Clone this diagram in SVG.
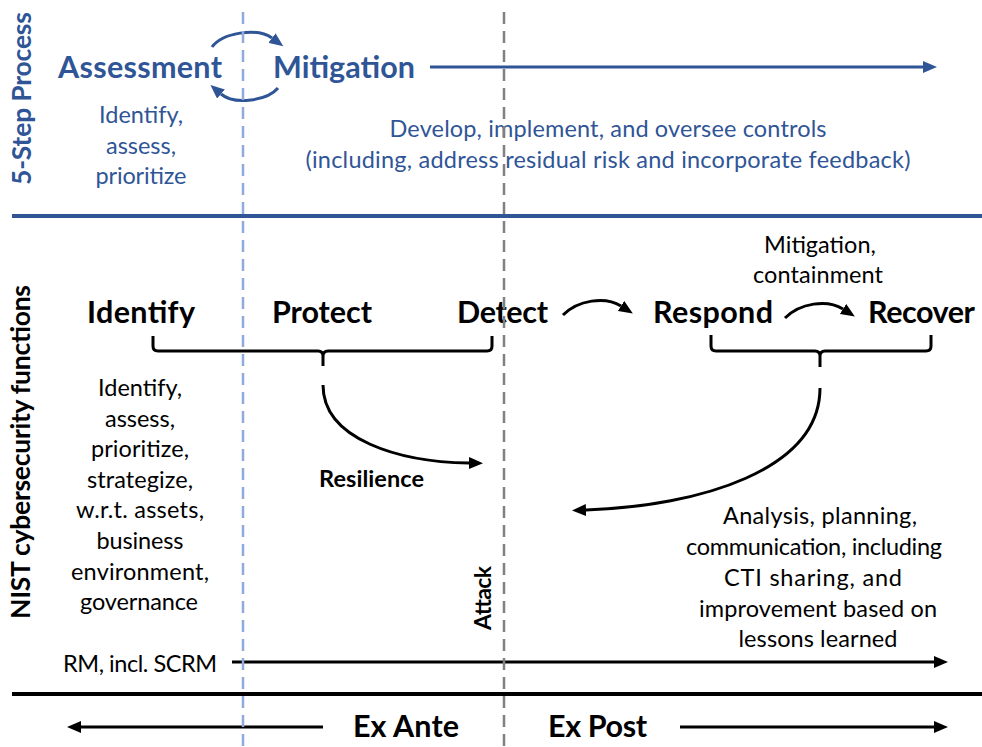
<svg xmlns="http://www.w3.org/2000/svg" width="982" height="747" viewBox="0 0 982 747">
  <style>
    text { font-family: Lato, "Open Sans", "Liberation Sans", sans-serif; }
    .bold { font-weight: 700; }
    .reg { font-weight: 400; }
    .blue { fill: #2F5597; }
    .black { fill: #000000; }
    .head { font-size: 30.5px; }
    .body { font-size: 23.5px; }
    .side { font-size: 26.5px; }
    .mid { text-anchor: middle; }
    .line { fill: none; stroke: #000000; stroke-width: 3; }
    .bline { fill: none; stroke: #2F5597; stroke-width: 3; }
    .dash-blue { stroke: #8FAADC; stroke-width: 2.5; stroke-dasharray: 12 7; }
    .dash-gray { stroke: #808080; stroke-width: 2.5; stroke-dasharray: 12 7; }
  </style>
  <defs>
    <marker id="ah" viewBox="0 0 14 12" refX="0" refY="6" markerWidth="14" markerHeight="12" markerUnits="userSpaceOnUse" orient="auto">
      <path d="M0,0 L14,6 L0,12 z" fill="#000000"/>
    </marker>
    <marker id="ah-blue" viewBox="0 0 14 12" refX="0" refY="6" markerWidth="14" markerHeight="12" markerUnits="userSpaceOnUse" orient="auto">
      <path d="M0,0 L14,6 L0,12 z" fill="#2F5597"/>
    </marker>
  </defs>

  <!-- section rules -->
  <line x1="12" y1="216" x2="982" y2="216" stroke="#2F5597" stroke-width="4"/>
  <line x1="12" y1="694" x2="982" y2="694" stroke="#000000" stroke-width="4"/>

  <!-- side labels -->
  <text class="bold blue side mid" transform="translate(31,98.5) rotate(-90)" textLength="173">5-Step Process</text>
  <text class="bold black side mid" transform="translate(30,452) rotate(-90)" textLength="334">NIST cybersecurity functions</text>

  <!-- 5-step process -->
  <g id="assessment">
    <text class="bold blue head mid" x="140" y="78" textLength="164">Assessment</text>
    <text class="reg blue body mid" x="141" y="123" textLength="84">Identify,</text>
    <text class="reg blue body mid" x="141" y="153.5" textLength="70">assess,</text>
    <text class="reg blue body mid" x="141" y="184" textLength="91">prioritize</text>
  </g>
  <g id="mitigation">
    <text class="bold blue head mid" x="344" y="78" textLength="142">Mitigation</text>
    <text class="reg blue body mid" x="608" y="137" textLength="437">Develop, implement, and oversee controls</text>
    <text class="reg blue body mid" x="608" y="168" textLength="605">(including, address residual risk and incorporate feedback)</text>
  </g>

  <!-- NIST functions -->
  <g id="identify">
    <text class="bold black head mid" x="141" y="323" textLength="108">Identify</text>
    <text class="reg black body mid" x="140" y="396" textLength="84">Identify,</text>
    <text class="reg black body mid" x="140" y="426.6" textLength="70">assess,</text>
    <text class="reg black body mid" x="140" y="457.2" textLength="98">prioritize,</text>
    <text class="reg black body mid" x="140" y="487.8" textLength="106">strategize,</text>
    <text class="reg black body mid" x="140" y="518.4" textLength="128">w.r.t. assets,</text>
    <text class="reg black body mid" x="140" y="549" textLength="87">business</text>
    <text class="reg black body mid" x="140" y="579.6" textLength="138">environment,</text>
    <text class="reg black body mid" x="139" y="610" textLength="118">governance</text>
  </g>
  <g id="protect">
    <text class="bold black head mid" x="322" y="323" textLength="100">Protect</text>
  </g>
  <g id="detect">
    <text class="bold black head mid" x="502.5" y="323" textLength="91">Detect</text>
  </g>
  <g id="respond">
    <text class="bold black head mid" x="713" y="323" textLength="120">Respond</text>
  </g>
  <g id="recover">
    <text class="bold black head mid" x="921.5" y="323" textLength="107">Recover</text>
  </g>
  <g id="containment-note">
    <text class="reg black body mid" x="820" y="253">Mitigation,</text>
    <text class="reg black body mid" x="818" y="283" textLength="130">containment</text>
  </g>
  <g id="resilience">
    <text class="bold black mid" x="371.5" y="487" font-size="23.5" textLength="105">Resilience</text>
  </g>
  <g id="attack">
    <text class="bold black mid" transform="translate(491,598) rotate(-90)" font-size="23" textLength="64">Attack</text>
  </g>
  <g id="recovery-note">
    <text class="reg black body mid" x="820" y="524" textLength="194">Analysis, planning,</text>
    <text class="reg black body mid" x="814" y="555" textLength="256">communication, including</text>
    <text class="reg black body mid" x="813" y="586" textLength="178">CTI sharing, and</text>
    <text class="reg black body mid" x="818" y="617" textLength="238">improvement based on</text>
    <text class="reg black body mid" x="818" y="647" textLength="159">lessons learned</text>
  </g>
  <g id="rm">
    <text class="reg black body" x="63" y="672" textLength="154">RM, incl. SCRM</text>
  </g>
  <g id="ex-ante">
    <text class="bold black head mid" x="406" y="737" textLength="106">Ex Ante</text>
  </g>
  <g id="ex-post">
    <text class="bold black head mid" x="597.5" y="737" textLength="99">Ex Post</text>
  </g>

  <!-- connectors -->
  <g id="connectors">
    <!-- assessment / mitigation cycle -->
    <path class="bline" d="M212,47 C222,33 257,27 272,38" marker-end="url(#ah-blue)"/>
    <path class="bline" d="M278,88 C268,100 235,106 221,94" marker-end="url(#ah-blue)"/>
    <line class="bline" x1="430" y1="67" x2="923" y2="67" marker-end="url(#ah-blue)"/>

    <!-- function flow -->
    <path class="line" d="M563,315 C578,300 605,296 621,306" marker-end="url(#ah)"/>
    <path class="line" d="M785,318 C800,303 827,299 843,309" marker-end="url(#ah)"/>

    <!-- braces -->
    <path class="line" d="M153,336 L153,346 Q153,351 158,351 L318,351 Q323,351 323,356 L323,366 M323,356 Q323,351 328,351 L487,351 Q492,351 492,346 L492,336"/>
    <path class="line" d="M711,335 L711,346 Q711,351 716,351 L815,351 Q820,351 820,356 L820,367 M820,356 Q820,351 825,351 L926,351 Q931,351 931,346 L931,335"/>

    <!-- resilience and feedback -->
    <path class="line" d="M323,385 C323,440 400,462 469,463" marker-end="url(#ah)"/>
    <path class="line" d="M820,388 C820,470 700,506 586,510" marker-end="url(#ah)"/>

    <!-- timelines -->
    <line class="line" x1="232" y1="662" x2="934" y2="662" marker-end="url(#ah)"/>
    <line class="line" x1="323" y1="727" x2="81" y2="727" marker-end="url(#ah)"/>
    <line class="line" x1="680" y1="727" x2="934" y2="727" marker-end="url(#ah)"/>
  </g>

  <!-- phase dividers -->
  <line class="dash-blue" x1="243" y1="12" x2="243" y2="747"/>
  <line class="dash-gray" x1="504" y1="12" x2="504" y2="747"/>
</svg>
